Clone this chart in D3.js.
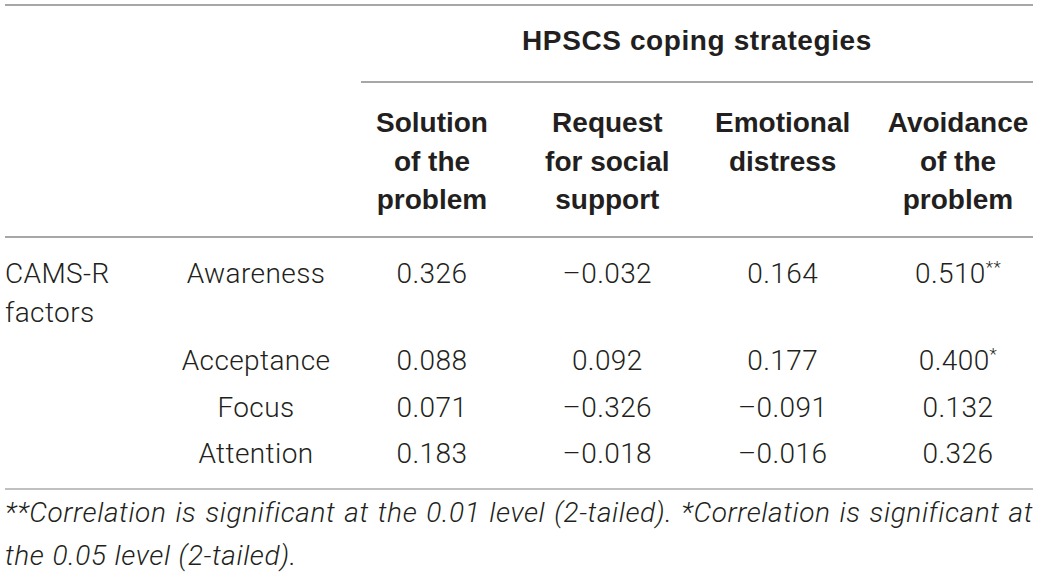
<!DOCTYPE html>
<html>
<head>
<meta charset="utf-8">
<script src="https://cdn.jsdelivr.net/npm/d3@7"></script>
<style>
  body { margin: 0; background: #fff; }
  svg { display: block; }
</style>
</head>
<body>
<svg id="chart" width="1039" height="576"></svg>
<script>
// table content
const groupTitle = "HPSCS coping strategies"
const strategies = ["Solution of the problem", "Request for social support", "Emotional distress", "Avoidance of the problem"]
const strategyLines = [["Solution", "of the", "problem"], ["Request", "for social", "support"], ["Emotional", "distress"], ["Avoidance", "of the", "problem"]]
const rowGroup = ["CAMS-R", "factors"]
const factors = ["Awareness", "Acceptance", "Focus", "Attention"]

const solution = [0.326, 0.088, 0.071, 0.183]
const request = [-0.032, 0.092, -0.326, -0.018]
const emotional = [0.164, 0.177, -0.091, -0.016]
const avoidance = [0.510, 0.400, 0.132, 0.326]
const avoidanceSig = ["**", "*", "", ""]

const footnoteLines = [
    "**Correlation is significant at the 0.01 level (2-tailed). *Correlation is significant at",
    "the 0.05 level (2-tailed)."
]

const series = [solution, request, emotional, avoidance]
const sigs = [["", "", "", ""], ["", "", "", ""], ["", "", "", ""], avoidanceSig]

const svg = d3.select("#chart")
const ink = "#231f20"
const light = "'Roboto', 'Liberation Sans', sans-serif"
const bold = "'Liberation Sans', Arial, sans-serif"

var x = d3.scalePoint().domain(strategies).range([432, 958])
var y = d3.scaleOrdinal().domain(factors).range([283, 370, 417, 463])
var fmt = d3.format(".3f")

// rules
var rules = [
    {x1: 5, x2: 1033, y: 5, c: "#8a8a8a"},
    {x1: 361, x2: 1033, y: 82, c: "#8a8a8a"},
    {x1: 5, x2: 1033, y: 237, c: "#8a8a8a"},
    {x1: 5, x2: 1033, y: 489, c: "#ababab"}
]
svg.selectAll("line.rule").data(rules).enter()
    .append("line")
    .classed("rule", true)
    .attr("x1", (d) => d.x1)
    .attr("x2", (d) => d.x2)
    .attr("y1", (d) => d.y)
    .attr("y2", (d) => d.y)
    .attr("stroke", (d) => d.c)
    .attr("stroke-width", 1.6)

// group header
svg.append("text")
    .attr("x", 697)
    .attr("y", 50)
    .attr("text-anchor", "middle")
    .attr("font-family", bold)
    .attr("font-weight", "bold")
    .attr("font-size", 28)
    .attr("letter-spacing", 0.6)
    .attr("fill", ink)
    .text(groupTitle)

// column headers
var heads = svg.selectAll("text.head").data(strategies).enter()
    .append("text")
    .classed("head", true)
    .attr("text-anchor", "middle")
    .attr("font-family", bold)
    .attr("font-weight", "bold")
    .attr("font-size", 28)
    .attr("fill", ink)
heads.selectAll("tspan")
    .data((d, i) => strategyLines[i].map((t) => ({t: t, s: d})))
    .enter()
    .append("tspan")
    .attr("x", (d) => x(d.s))
    .attr("y", (d, j) => 132 + j * 38.5)
    .text((d) => d.t)

// row group label
svg.append("text")
    .attr("font-family", light)
    .attr("font-weight", 300)
    .attr("font-size", 28)
    .attr("letter-spacing", 0.4)
    .attr("fill", ink)
    .selectAll("tspan").data(rowGroup).enter()
    .append("tspan")
    .attr("x", 5)
    .attr("y", (d, i) => 283 + i * 39)
    .text((d) => d)

// row labels
svg.selectAll("text.factor").data(factors).enter()
    .append("text")
    .classed("factor", true)
    .attr("x", 256)
    .attr("y", (d) => y(d))
    .attr("text-anchor", "middle")
    .attr("font-family", light)
    .attr("font-weight", 300)
    .attr("font-size", 28)
    .attr("letter-spacing", 0.4)
    .attr("fill", ink)
    .text((d) => d)

// cells
var cells = []
series.forEach((vals, c) => {
    vals.forEach((v, r) => {
        cells.push({s: strategies[c], f: factors[r], v: v, sig: sigs[c][r]})
    })
})
var cellText = svg.selectAll("text.cell").data(cells).enter()
    .append("text")
    .classed("cell", true)
    .attr("x", (d) => x(d.s))
    .attr("y", (d) => y(d.f))
    .attr("text-anchor", "middle")
    .attr("font-family", light)
    .attr("font-weight", 300)
    .attr("font-size", 28)
    .attr("letter-spacing", 0.4)
    .attr("fill", ink)
cellText.append("tspan").text((d) => fmt(d.v).replace("−", "–"))
cellText.filter((d) => d.sig != "")
    .append("tspan")
    .attr("font-size", 17)
    .attr("dy", -10)
    .text((d) => d.sig)

// footnote, first line justified over the full width
var note = svg.append("g")
    .attr("font-family", light)
    .attr("font-weight", 300)
    .attr("font-style", "italic")
    .attr("font-size", 28)
    .attr("letter-spacing", 0.6)
    .attr("fill", ink)
var left = 5, right = 1033

footnoteLines.forEach((line, li) => {
    var ws = line.split(" ")
    var nodes = ws.map((w) => note.append("text").attr("y", 522 + li * 43).text(w))
    var widths = nodes.map((n) => n.node().getComputedTextLength())
    var last = li == footnoteLines.length - 1
    var gap = last ? 8 : (right - left - d3.sum(widths)) / (ws.length - 1)
    var pos = left
    nodes.forEach((n, k) => {
        n.attr("x", pos)
        pos += widths[k] + gap
    })
})
</script>
</body>
</html>
